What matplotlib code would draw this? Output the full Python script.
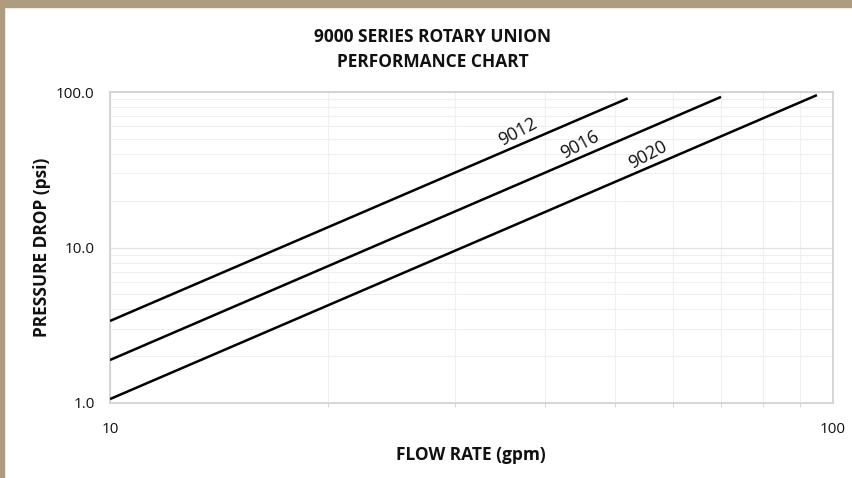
import matplotlib.pyplot as plt
from matplotlib.patches import Rectangle
from matplotlib.ticker import FixedLocator, NullFormatter, FixedFormatter

# pressure drop curves, endpoints (log-log, P ~ Q^2)
models = ["9012", "9016", "9020"]
flow_9012 = [10, 52]
psi_9012 = [3.37, 91.0]
flow_9016 = [10, 70]
psi_9016 = [1.89, 93.0]
flow_9020 = [10, 95]
psi_9020 = [1.06, 95.5]

y_ticks = [1, 10, 100]
y_labels = ["1.0", "10.0", "100.0"]
x_ticks = [10, 100]
x_labels = ["10", "100"]

plt.rcParams['font.family'] = ['Open Sans', 'DejaVu Sans']
txt = '#111111'

fig = plt.figure(figsize=(8.53, 4.78), dpi=100)
fig.patch.set_facecolor('white')
# tan frame on top and left edges
tan = '#ad9c80'
fig.add_artist(Rectangle((0, 1 - 7 / 478), 1, 7 / 478, transform=fig.transFigure, color=tan, zorder=0))
fig.add_artist(Rectangle((0, 0), 4 / 853, 1, transform=fig.transFigure, color=tan, zorder=0))

ax = fig.add_axes([110 / 853, 1 - 403 / 478, 723 / 853, 311 / 478])
ax.set_xscale('log')
ax.set_yscale('log')
ax.set_xlim(10, 100)
ax.set_ylim(1, 100)

for fx, py in [(flow_9012, psi_9012), (flow_9016, psi_9016), (flow_9020, psi_9020)]:
    ax.plot(fx, py, color='black', lw=1.8, solid_capstyle='butt', zorder=3)

ax.yaxis.set_major_locator(FixedLocator(y_ticks))
ax.yaxis.set_major_formatter(FixedFormatter(y_labels))
ax.xaxis.set_major_locator(FixedLocator(x_ticks))
ax.xaxis.set_major_formatter(FixedFormatter(x_labels))
ax.yaxis.set_minor_formatter(NullFormatter())
ax.xaxis.set_minor_formatter(NullFormatter())

ax.grid(True, which='major', color='#e3e3e3', lw=0.9)
ax.grid(True, which='minor', color='#efefef', lw=0.8)

for s in ax.spines.values():
    s.set_color('#d0d0d0')
    s.set_linewidth(1.2)

ax.tick_params(axis='y', which='both', length=0, labelsize=11, labelcolor=txt, pad=11)
ax.tick_params(axis='x', which='major', length=0, labelsize=11, labelcolor=txt, pad=14)
ax.tick_params(axis='x', which='minor', length=3, color='#d0d0d0', direction='out')

ax.set_ylabel("PRESSURE DROP (psi)", fontsize=12.5, fontweight='bold', color=txt, va='center')
ax.yaxis.set_label_coords((42 - 110) / 723, 0.5)
ax.set_xlabel("FLOW RATE (gpm)", fontsize=12.5, fontweight='bold', color=txt, va='center')
ax.xaxis.set_label_coords((471 - 110) / 723, (403 - 455) / 311)

fig.text(433 / 853, 1 - 37 / 478, "9000 SERIES ROTARY UNION", ha='center', va='center',
         fontsize=12.5, fontweight='bold', color=txt)
fig.text(433 / 853, 1 - 62 / 478, "PERFORMANCE CHART", ha='center', va='center',
         fontsize=12.5, fontweight='bold', color=txt)

# curve labels
ax.text(36.7, 55.3, "9012", rotation=28, fontsize=13, ha='center', va='center', color=txt,
        rotation_mode='anchor')
ax.text(44.7, 45.6, "9016", rotation=28, fontsize=13, ha='center', va='center', color=txt,
        rotation_mode='anchor')
ax.text(55.5, 39.3, "9020", rotation=28, fontsize=13, ha='center', va='center', color=txt,
        rotation_mode='anchor')

fig.savefig("out.png", dpi=100, facecolor='white')
